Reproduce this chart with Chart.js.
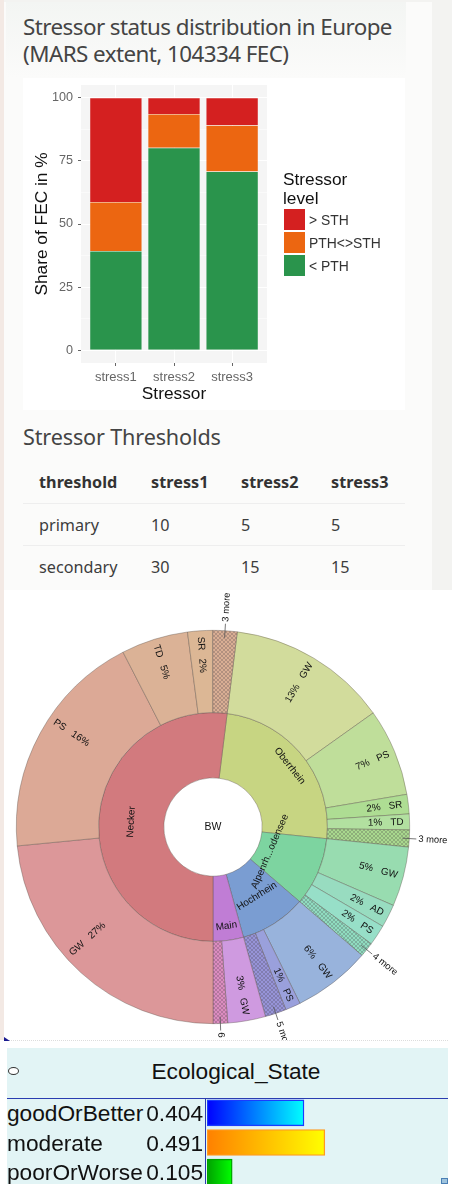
<!DOCTYPE html>
<html><head><meta charset="utf-8">
<script src="https://cdn.jsdelivr.net/npm/chart.js@4/dist/chart.umd.min.js"></script>
<style>
html,body{margin:0;padding:0;width:452px;height:1184px;overflow:hidden;background:#fff;font-family:"Liberation Sans",Arial,sans-serif}
.a{position:absolute}
canvas{position:absolute;display:block}
.h{font-family:"Noto Sans",sans-serif;color:#444;white-space:nowrap}
.t{font-family:"Noto Sans",sans-serif;color:#3d3d3d;font-size:16.2px;white-space:nowrap}
.leg{font-size:13.9px;color:#333;white-space:nowrap}
.big{font-size:22.7px;color:#111;white-space:nowrap;line-height:26px}
</style></head><body>
<div class="a" style="left:0;top:0;width:452px;height:590px;background:#f3f3f1"></div>
<div class="a" style="left:4px;top:2px;width:428px;height:588px;background:#fbfbfa"></div>
<div class="a" style="left:6px;top:2px;width:400px;height:76px;background:linear-gradient(180deg,#f3f5f3,#fbfbfa)"></div>
<div class="a" style="left:0;top:0;width:4px;height:1040px;background:#f3e9e4"></div>
<div class="a" style="left:4px;top:590px;width:448px;height:594px;background:#fff"></div>
<div class="a" style="left:23px;top:78px;width:382px;height:332px;background:#fff"></div>
<div class="a h" style="left:23px;top:14px;font-size:22.4px;line-height:26.5px;letter-spacing:-.56px">Stressor status distribution in Europe<br>(MARS extent, 104334 FEC)</div>
<div class="a h" style="left:23px;top:422px;font-size:21.6px;line-height:30px;letter-spacing:-.15px">Stressor Thresholds</div>
<div id="tbl"></div>
<canvas id="bars" style="left:23px;top:78px"></canvas>
<div id="legend"></div>
<canvas id="sun" style="left:0;top:590px"></canvas>
<div class="a" style="left:7px;top:1040px;width:441px;border-top:1px dotted #ddd"></div>
<div class="a" style="left:4px;top:1037px;width:0;height:0;border-left:6px solid #1a1a90;border-top:4px solid transparent"></div>
<div class="a" style="left:7px;top:1048px;width:441px;height:136px;background:#e2f4f5"></div>
<div class="a" style="left:7px;top:1098px;width:441px;height:1px;background:#2a3cb0"></div>
<div class="a" style="left:205px;top:1098px;width:1px;height:86px;background:#2a3cb0"></div>
<div class="a" style="left:8px;top:1067px;width:9px;height:6px;border:1px solid #333;border-radius:50%;background:#fff"></div>
<div class="a big" style="left:7px;top:1058px;width:458px;text-align:center">Ecological_State</div>
<div id="ecoText"></div>
<canvas id="eco" style="left:207px;top:1098px"></canvas>
<div class="a" style="left:441px;top:1178px;width:7px;height:6px;background:#9ec3dd;border:1px solid #4a7fb5;box-sizing:border-box"></div>
<script>
// ---- Stressor stacked bars
const stressors = ['stress1','stress2','stress3'];
const levelNames = ['< PTH','PTH<>STH','> STH'];
const belowPTH  = [39.3, 80.2, 70.8];
const betweenPTH = [19.4, 13.3, 18.25];
const aboveSTH  = [41.3, 6.5, 10.95];
const barColors = ['#2a944c','#ec6611','#d42020'];

// ---- Threshold table
const tableHead = ['threshold','stress1','stress2','stress3'];
const tablePrimary = ['primary','10','5','5'];
const tableSecondary = ['secondary','30','15','15'];

// ---- Sunburst, inner ring (percent of the circle, clockwise)
const innerNames  = ['Oberrhein','Alpenrh...odensee','Hochrhein','Main','Necker'];
const innerShares = [24.7, 9.7, 9.4, 4.3, 52.05];
const innerColors = ['#c7d582','#7dd4a0','#7a9dd2','#c07dd5','#d27a7e'];
const innerLabelRadius = [98, 62, 82, 100, 82];

// ---- Sunburst, outer ring
const outerNames  = ['GW','PS','SR','TD','3 more', 'GW','AD','PS','4 more', 'GW','PS','5 more', 'GW','6 more', 'GW','PS','TD','SR','3 more'];
const outerPct    = ['13%','7%','2%','1%','', '5%','2%','2%','', '6%','1%','', '3%','', '27%','16%','5%','2%',''];
const outerShares = [13.2,7.2,1.6,1.3,1.4, 4.9,1.9,1.7,1.2, 6.4,1.25,1.75, 3.1,1.2, 23.5,19,5.5,2.05,2];
const outerColors = ['#d2dc9c','#bfde9a','#aedd93','#b2e0a0','#a9d88e', '#98dcb0','#98dcc0','#97dfc8','#90dcc0', '#98b3dc','#9aa0dc','#9794d8', '#cf9ae0','#dc8cc0', '#dc9799','#dca996','#dbb296','#dcb795','#d9ae94'];
const outerLabelNudge = [0,0,0,0,0, 0,0,0,0, 0,0,0, 0,0, 6,5,0,0,0];
const centerName = 'BW';

// ---- Ecological state
const ecoNames  = ['goodOrBetter','moderate','poorOrWorse'];
const ecoValues = [0.404, 0.491, 0.105];
const ecoStops  = [['#0000ff','#00ffff'],['#ff8000','#ffff00'],['#00a000','#00ff00']];
const ecoBorder = ['#1a3cff','#ff9a20','#00a000'];

Chart.defaults.animation = false;
Chart.defaults.font.family = '"Liberation Sans",Arial,sans-serif';
Chart.defaults.responsive = false;

function el(cls, css, txt){const d=document.createElement('div');d.className='a '+cls;d.style.cssText=css;d.textContent=txt;document.body.appendChild(d);return d;}

// table
const colX = [39,151,241,331], rowY=[471,514,556];
[tableHead,tablePrimary,tableSecondary].forEach((row,r)=>row.forEach((v,c)=>
  el('t',`left:${colX[c]}px;top:${rowY[r]}px;line-height:22px;${r===0?'font-weight:700;letter-spacing:.05px;color:#333':''}`,v)));
[503,545].forEach(y=>el('',`left:23px;top:${y}px;width:382px;height:1px;background:#eee`,''));

// legend
el('', 'left:283px;top:170px;font-size:17.3px;line-height:18.6px;color:#111;white-space:pre', 'Stressor\nlevel');
[2,1,0].forEach((s,i)=>{
  el('',`left:284px;top:${209+i*23}px;width:21px;height:21px;background:${barColors[s]}`,'');
  el('leg',`left:309px;top:${212+i*23}px;line-height:17px`,levelNames[s]);
});

function hatch(color){
  const c=document.createElement('canvas');c.width=4;c.height=4;const g=c.getContext('2d');
  g.fillStyle=color;g.fillRect(0,0,4,4);
  g.strokeStyle='rgba(70,60,70,.38)';g.lineWidth=.7;
  g.beginPath();g.moveTo(0,0);g.lineTo(4,4);g.moveTo(4,0);g.lineTo(0,4);g.stroke();
  return g.createPattern(c,'repeat');
}

const panelBg = {id:'panelBg',beforeDraw(ch){const a=ch.chartArea,g=ch.ctx;g.save();g.fillStyle='#f5f5f5';g.fillRect(a.left,a.top,a.width,a.height);g.restore();}};
const minor = v => Math.abs(v%25)>1;
const xs = stressors.map((_,i)=>i+1);
const toPts = arr => arr.map((y,i)=>({x:xs[i],y}));
const barC = document.getElementById('bars');barC.width=382;barC.height=332;
new Chart(barC,{type:'bar',
 data:{datasets:[belowPTH,betweenPTH,aboveSTH].map((arr,i)=>({label:levelNames[i],data:toPts(arr),backgroundColor:barColors[i],borderColor:'rgba(255,255,255,.2)',borderWidth:.5,categoryPercentage:1,barPercentage:.9}))},
 plugins:[panelBg],
 options:{layout:{padding:{left:0,right:138,top:7,bottom:0}},
  plugins:{legend:{display:false},tooltip:{enabled:false}},
  scales:{
   x:{type:'linear',stacked:true,offset:false,min:.4,max:3.6,
    afterBuildTicks:s=>{s.ticks=xs.map(value=>({value}));},
    afterFit:s=>{s.height=47;s.paddingLeft=0;s.paddingRight=0;},
    ticks:{autoSkip:false,maxRotation:0,padding:4,color:'#666',font:{size:13},callback:v=>stressors[v-1]},
    grid:{offset:false,color:'#fff',lineWidth:1,tickLength:3,tickColor:'#666',drawOnChartArea:true},border:{display:false},
    title:{display:true,text:'Stressor',color:'#111',font:{size:17.3},padding:{top:0,bottom:5}}},
   y:{stacked:true,min:-5,max:105,
    afterBuildTicks:s=>{const t=[];for(let v=0;v<=100;v+=12.5)t.push({value:v});s.ticks=t;},
    afterFit:s=>{s.width=58;s.paddingTop=0;s.paddingBottom=0;},
    ticks:{autoSkip:false,padding:5,color:'#666',font:{size:12.6},callback:v=>minor(v)?'':v},
    grid:{color:'#fff',lineWidth:c=>minor(c.tick.value)?.5:1,tickLength:3,tickColor:c=>minor(c.tick.value)?'transparent':'#666'},border:{display:false},
    title:{display:true,text:'Share of FEC in %',color:'#111',font:{size:17.3},padding:{top:9,bottom:0}}}
  }}});

// sunburst
const sunLabels = {id:'sunLabels',afterDatasetsDraw(ch){
  const g=ch.ctx, outer=ch.getDatasetMeta(0).data, inner=ch.getDatasetMeta(1).data;
  const cx=outer[0].x, cy=outer[0].y;
  g.save();g.fillStyle='#111';g.textBaseline='middle';
  outer.forEach((arc,i)=>{
    const mid=(arc.startAngle+arc.endAngle)/2+outerLabelNudge[i]*Math.PI/180;
    const R=arc.outerRadius, isMore=!outerPct[i];
    const tx=Math.cos(mid),ty=Math.sin(mid);
    if(isMore){
      g.strokeStyle='#555';g.lineWidth=.8;g.beginPath();
      g.moveTo(cx+tx*(R-7),cy+ty*(R-7));g.lineTo(cx+tx*(R+7),cy+ty*(R+7));g.stroke();
    }
    const r=isMore?R+9:R-6;
    g.save();g.translate(cx+tx*r,cy+ty*r);
    const half=((mid+Math.PI/2)%(2*Math.PI)+2*Math.PI)%(2*Math.PI);
    const rightHalf=half<Math.PI;
    g.rotate(rightHalf?mid:mid+Math.PI);
    g.font=(isMore?'9.4':'9.9')+'px "Liberation Sans"';
    if(isMore){g.textAlign=rightHalf?'left':'right';g.fillText(outerNames[i],0,0);}
    else{g.textAlign=rightHalf?'right':'left';
      g.fillText(rightHalf?outerPct[i]+'\u00a0\u00a0\u00a0'+outerNames[i]:outerNames[i]+'\u00a0\u00a0\u00a0'+outerPct[i],0,0);}
    g.restore();
  });
  g.font='9.9px "Liberation Sans"';
  inner.forEach((arc,i)=>{
    const mid=(arc.startAngle+arc.endAngle)/2,r=innerLabelRadius[i];
    const th=((mid+Math.PI/2)%(2*Math.PI)+2*Math.PI)%(2*Math.PI);
    const lower=th>Math.PI/2&&th<Math.PI*1.5;
    g.save();g.translate(cx+Math.cos(mid)*r,cy+Math.sin(mid)*r);
    g.rotate(lower?th-Math.PI:th);g.textAlign='center';g.fillText(innerNames[i],0,0);g.restore();
  });
  g.textAlign='center';g.font='10.5px "Liberation Sans"';g.fillText(centerName,cx,cy);
  g.restore();
}};
const sunC=document.getElementById('sun');sunC.width=452;sunC.height=450;
new Chart(sunC,{type:'doughnut',
 data:{labels:outerNames,datasets:[
  {data:outerShares,weight:82,backgroundColor:outerColors.map((c,i)=>outerPct[i]?c:hatch(c)),borderColor:'rgba(90,80,70,.55)',borderWidth:.7},
  {data:innerShares,weight:65,backgroundColor:innerColors,borderColor:'rgba(90,80,70,.55)',borderWidth:.7}]},
 plugins:[sunLabels],
 options:{cutout:'25%',rotation:7.1,layout:{padding:{left:16,right:42,top:40,bottom:16}},
  plugins:{legend:{display:false},tooltip:{enabled:false}}}});

// eco bars
ecoNames.forEach((n,i)=>{
  const top=1100+i*29.6;
  el('big',`left:7px;top:${top}px`,n);
  el('big',`left:145px;top:${top}px;width:58px;text-align:right`,ecoValues[i].toFixed(3));
});
const ecoC=document.getElementById('eco');ecoC.width=240;ecoC.height=89;
new Chart(ecoC,{type:'bar',
 data:{labels:ecoNames,datasets:[{data:ecoValues,barThickness:26,borderWidth:1.4,borderSkipped:false,
   borderColor:ecoBorder,
   backgroundColor:c=>{const s=c.chart.scales.x;
     const a=s&&s.getPixelForValue(0),b=s&&s.getPixelForValue(ecoValues[c.dataIndex]);
     if(!Number.isFinite(a)||!Number.isFinite(b))return ecoStops[c.dataIndex][0];
     const gr=c.chart.ctx.createLinearGradient(a,0,b,0);
     gr.addColorStop(0,ecoStops[c.dataIndex][0]);gr.addColorStop(1,ecoStops[c.dataIndex][1]);return gr;}}]},
 options:{indexAxis:'y',plugins:{legend:{display:false},tooltip:{enabled:false}},
  scales:{x:{display:false,min:0,max:1},y:{display:false}}}});
</script>
</body></html>
